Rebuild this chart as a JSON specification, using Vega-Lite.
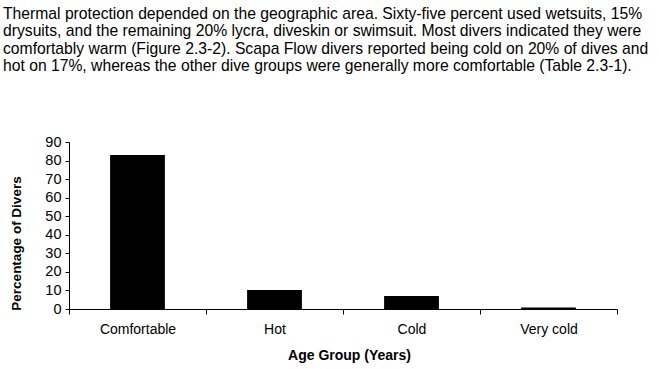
{
  "$schema": "https://vega.github.io/schema/vega-lite/v6.json",
  "autosize": "none",
  "padding": {"left": 69, "top": 142, "right": 42, "bottom": 60},
  "width": 548,
  "height": 167,
  "background": "white",
  "title": {
    "text": [
      "Thermal protection depended on the geographic area. Sixty-five percent used wetsuits, 15%",
      "drysuits, and the remaining 20% lycra, diveskin or swimsuit. Most divers indicated they were",
      "comfortably warm (Figure 2.3-2). Scapa Flow divers reported being cold on 20% of dives and",
      "hot on 17%, whereas the other dive groups were generally more comfortable (Table 2.3-1)."
    ],
    "anchor": "start",
    "frame": "group",
    "dx": -66,
    "offset": 59,
    "font": "Liberation Sans",
    "fontSize": 15.7,
    "fontWeight": "normal",
    "color": "black",
    "lineHeight": 17.5
  },
  "data": {
    "values": [
      {"group": "Comfortable", "pct": 83},
      {"group": "Hot", "pct": 10.2},
      {"group": "Cold", "pct": 7},
      {"group": "Very cold", "pct": 0.8}
    ]
  },
  "config": {
    "view": {"stroke": null},
    "font": "Liberation Sans"
  },
  "mark": {"type": "bar", "color": "black", "width": {"band": 0.4}},
  "encoding": {
    "x": {
      "field": "group",
      "type": "nominal",
      "sort": null,
      "scale": {"paddingInner": 0, "paddingOuter": 0},
      "axis": {
        "title": "Age Group (Years)",
        "labelAngle": 0,
        "tickBand": "extent",
        "domainColor": "black",
        "tickColor": "black",
        "tickSize": 5,
        "labelFont": "Liberation Sans",
        "labelFontSize": 14,
        "labelColor": "black",
        "labelPadding": 8,
        "titleFont": "Liberation Sans",
        "titleFontSize": 14,
        "titleFontWeight": "bold",
        "titleColor": "black",
        "titlePadding": 12,
        "titleX": 280,
        "grid": false
      }
    },
    "y": {
      "field": "pct",
      "type": "quantitative",
      "scale": {"domain": [0, 90], "nice": false},
      "axis": {
        "title": "Percentage of Divers",
        "values": [0, 10, 20, 30, 40, 50, 60, 70, 80, 90],
        "grid": false,
        "domainColor": "black",
        "tickColor": "black",
        "tickSize": 4,
        "labelFont": "Liberation Sans",
        "labelFontSize": 14.5,
        "labelColor": "black",
        "labelPadding": 4,
        "titleFont": "Liberation Sans",
        "titleFontSize": 13.5,
        "titleFontWeight": "bold",
        "titleColor": "black",
        "titlePadding": 21,
        "titleY": 101
      }
    }
  }
}
